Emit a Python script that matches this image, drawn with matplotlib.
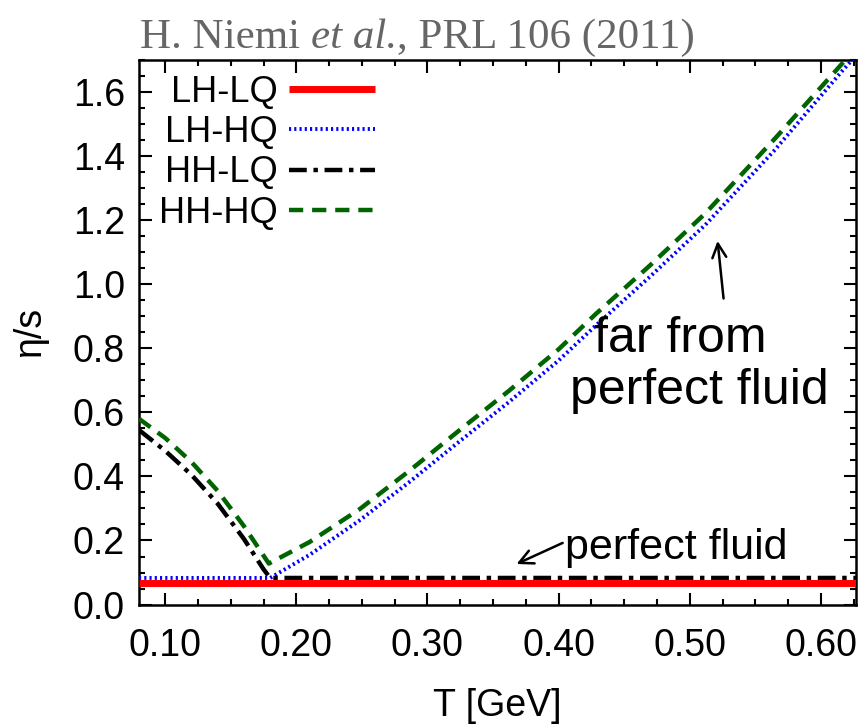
import matplotlib
matplotlib.use("Agg")
import matplotlib.pyplot as plt
from matplotlib.ticker import MultipleLocator, FormatStrFormatter
from matplotlib.transforms import offset_copy

# eta/s(T) parametrisations
T_lhlq = [0.08, 0.627]
eta_lhlq = [0.066, 0.066]

T_lhhq = [0.08, 0.18, 0.21, 0.248, 0.286, 0.324, 0.362, 0.400, 0.428, 0.47, 0.512, 0.565, 0.616, 0.627]
eta_lhhq = [0.083, 0.083, 0.155, 0.262, 0.382, 0.508, 0.632, 0.762, 0.87, 1.025, 1.186, 1.42, 1.665, 1.715]

T_hhlq = [0.08, 0.10, 0.12, 0.14, 0.16, 0.175, 0.18, 0.627]
eta_hhlq = [0.545, 0.48, 0.405, 0.315, 0.205, 0.11, 0.083, 0.083]

T_hhhq = [0.08, 0.10, 0.12, 0.14, 0.16, 0.179, 0.21, 0.248, 0.286, 0.324, 0.362, 0.400, 0.428, 0.47, 0.512, 0.565, 0.616, 0.627]
eta_hhhq = [0.58, 0.52, 0.445, 0.355, 0.245, 0.128, 0.195, 0.297, 0.417, 0.543, 0.667, 0.797, 0.906, 1.06, 1.222, 1.455, 1.688, 1.738]

series_labels = ["LH-LQ", "LH-HQ", "HH-LQ", "HH-HQ"]
x_ticks = [0.10, 0.20, 0.30, 0.40, 0.50, 0.60]
y_ticks = [0.0, 0.2, 0.4, 0.6, 0.8, 1.0, 1.2, 1.4, 1.6]

plt.rcParams["font.family"] = ["Liberation Sans", "DejaVu Sans"]

fig = plt.figure(figsize=(8.58, 7.24), dpi=100)
ax = fig.add_axes([0.162, 0.165, 0.836, 0.752])

ax.plot(T_lhlq, eta_lhlq, color="#ff0000", lw=5, solid_capstyle="butt",
        label=series_labels[0], zorder=5)
ax.plot(T_lhhq, eta_lhhq, color="#0000ff", lw=2.8, linestyle=(0, (0.55, 0.8)),
        label=series_labels[1], zorder=3)
ax.plot(T_hhlq, eta_hhlq, color="#000000", lw=3.2, linestyle=(0, (4, 1.5, 1, 1.5)),
        label=series_labels[2], zorder=4)
ax.plot(T_hhhq, eta_hhhq, color="#006400", lw=3.2, linestyle=(0, (3.2, 2.0)),
        label=series_labels[3], zorder=3)

ax.set_xlim(0.08, 0.627)
ax.set_ylim(0.0, 1.7)

ax.xaxis.set_minor_locator(MultipleLocator(0.025))
ax.yaxis.set_minor_locator(MultipleLocator(0.05))
ax.set_xticks(x_ticks)
ax.set_yticks(y_ticks)
ax.xaxis.set_major_formatter(FormatStrFormatter("%.2f"))
ax.yaxis.set_major_formatter(FormatStrFormatter("%.1f"))

ax.tick_params(which="both", direction="in", top=True, right=True, width=1.5, color="black")
ax.tick_params(which="major", length=9, labelsize=27, pad=10)
ax.tick_params(axis="x", which="major", pad=17)
ax.tick_params(which="minor", length=4.5)
for s in ax.spines.values():
    s.set_linewidth(1.8)

ax.set_xlabel("T [GeV]", fontsize=27, labelpad=17)
ax.set_ylabel("η/s", fontsize=27, labelpad=18)

leg = ax.legend(loc="upper left", frameon=False, fontsize=26, markerfirst=False,
                handlelength=2.4, handletextpad=0.3, labelspacing=0.15,
                borderpad=0.4, borderaxespad=0.0, bbox_to_anchor=(0.008, 1.0))

# annotations
ax.annotate("", xy=(0.521, 1.144), xytext=(0.526, 0.947),
            arrowprops=dict(arrowstyle="->", lw=1.8, color="black",
                            mutation_scale=25))
ax.text(0.493, 0.829, "far from", fontsize=36, ha="center", va="center")
ax.text(0.507, 0.667, "perfect fluid", fontsize=36, ha="center", va="center")

ax.annotate("", xy=(0.366, 0.123), xytext=(0.405, 0.196),
            arrowprops=dict(arrowstyle="->", lw=1.8, color="black",
                            mutation_scale=25))
ax.text(0.405, 0.176, "perfect fluid", fontsize=31, ha="left", va="center")

# citation line above the frame, built from plain and italic pieces
fig.canvas.draw()
renderer = fig.canvas.get_renderer()
pieces = [("H. Niemi ", "normal"), ("et al.", "italic"), (", PRL 106 (2011)", "normal")]
trans = fig.transFigure
x0, y0 = 0.163, 0.948
for txt, style in pieces:
    t = fig.text(x0, y0, txt, fontsize=31, color="#666666",
                 family="Liberation Serif", style=style,
                 ha="left", va="center", transform=trans)
    bb = t.get_window_extent(renderer=renderer)
    trans = offset_copy(trans, fig=fig, x=bb.width, y=0, units="dots")

fig.savefig("out.png", dpi=100)
